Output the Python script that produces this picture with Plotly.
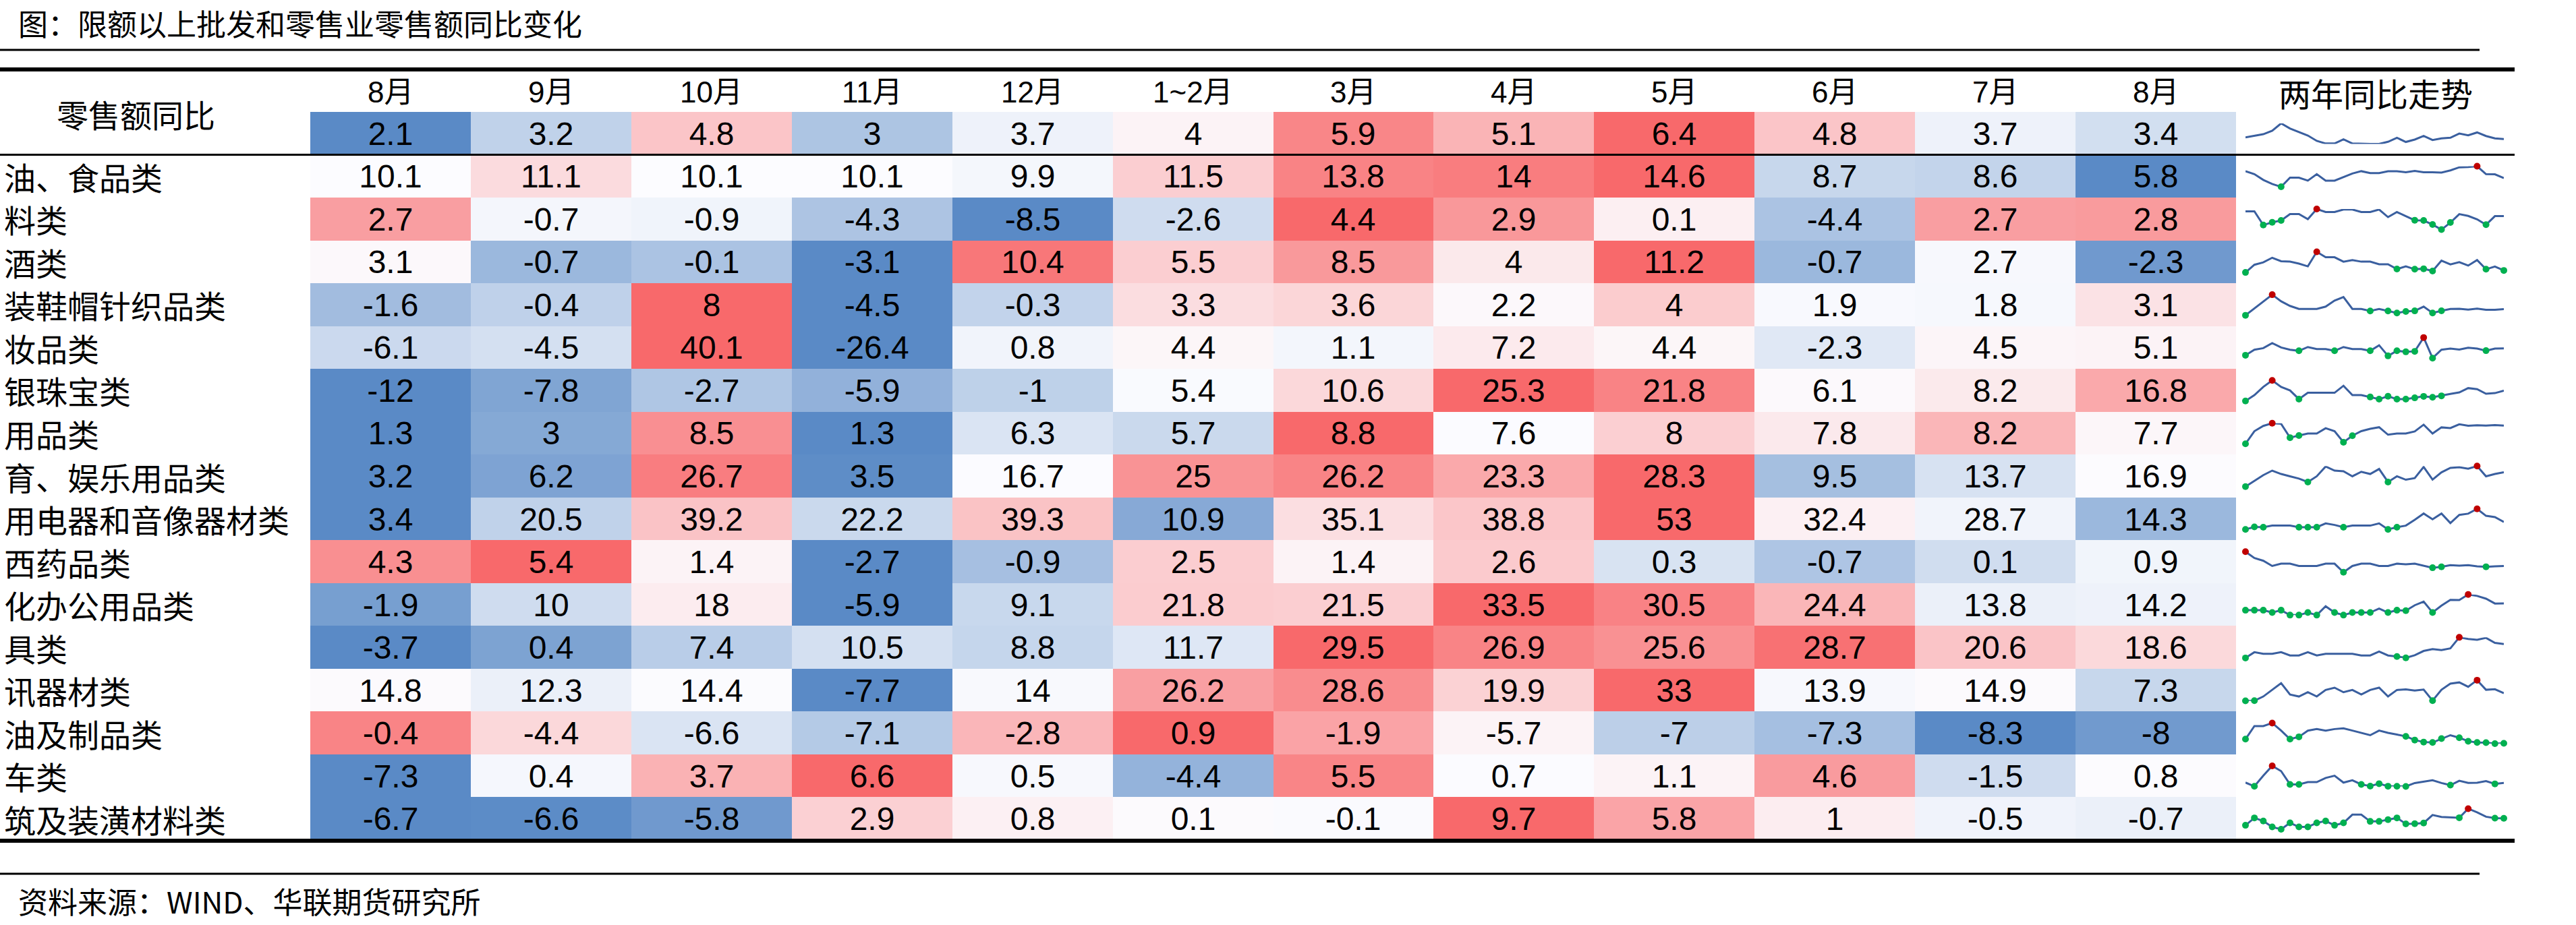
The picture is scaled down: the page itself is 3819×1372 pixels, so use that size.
import plotly.graph_objects as go

W, H = 3819, 1372

# ---------------- data ----------------
title_text = "图：限额以上批发和零售业零售额同比变化"
source_text = "资料来源：WIND、华联期货研究所"
header_label = "零售额同比"
trend_header = "两年同比走势"

months = ["8月", "9月", "10月", "11月", "12月", "1~2月", "3月", "4月", "5月", "6月", "7月", "8月"]

row_labels = ["", "油、食品类", "料类", "酒类", "装鞋帽针织品类", "妆品类", "银珠宝类", "用品类",
              "育、娱乐用品类", "用电器和音像器材类", "西药品类", "化办公用品类", "具类",
              "讯器材类", "油及制品类", "车类", "筑及装潢材料类"]

total_sales = [2.1, 3.2, 4.8, 3, 3.7, 4, 5.9, 5.1, 6.4, 4.8, 3.7, 3.4]
grain_food = [10.1, 11.1, 10.1, 10.1, 9.9, 11.5, 13.8, 14, 14.6, 8.7, 8.6, 5.8]
beverage = [2.7, -0.7, -0.9, -4.3, -8.5, -2.6, 4.4, 2.9, 0.1, -4.4, 2.7, 2.8]
liquor = [3.1, -0.7, -0.1, -3.1, 10.4, 5.5, 8.5, 4, 11.2, -0.7, 2.7, -2.3]
clothing = [-1.6, -0.4, 8, -4.5, -0.3, 3.3, 3.6, 2.2, 4, 1.9, 1.8, 3.1]
cosmetics = [-6.1, -4.5, 40.1, -26.4, 0.8, 4.4, 1.1, 7.2, 4.4, -2.3, 4.5, 5.1]
jewelry = [-12, -7.8, -2.7, -5.9, -1, 5.4, 10.6, 25.3, 21.8, 6.1, 8.2, 16.8]
daily_use = [1.3, 3, 8.5, 1.3, 6.3, 5.7, 8.8, 7.6, 8, 7.8, 8.2, 7.7]
sports = [3.2, 6.2, 26.7, 3.5, 16.7, 25, 26.2, 23.3, 28.3, 9.5, 13.7, 16.9]
appliances = [3.4, 20.5, 39.2, 22.2, 39.3, 10.9, 35.1, 38.8, 53, 32.4, 28.7, 14.3]
medicine = [4.3, 5.4, 1.4, -2.7, -0.9, 2.5, 1.4, 2.6, 0.3, -0.7, 0.1, 0.9]
office = [-1.9, 10, 18, -5.9, 9.1, 21.8, 21.5, 33.5, 30.5, 24.4, 13.8, 14.2]
furniture = [-3.7, 0.4, 7.4, 10.5, 8.8, 11.7, 29.5, 26.9, 25.6, 28.7, 20.6, 18.6]
telecom = [14.8, 12.3, 14.4, -7.7, 14, 26.2, 28.6, 19.9, 33, 13.9, 14.9, 7.3]
petroleum = [-0.4, -4.4, -6.6, -7.1, -2.8, 0.9, -1.9, -5.7, -7, -7.3, -8.3, -8]
autos = [-7.3, 0.4, 3.7, 6.6, 0.5, -4.4, 5.5, 0.7, 1.1, 4.6, -1.5, 0.8]
building = [-6.7, -6.6, -5.8, 2.9, 0.8, 0.1, -0.1, 9.7, 5.8, 1, -0.5, -0.7]

table_rows = [total_sales, grain_food, beverage, liquor, clothing, cosmetics, jewelry, daily_use,
              sports, appliances, medicine, office, furniture, telecom, petroleum, autos, building]

# earlier 18 points of each sparkline; the last 12 points are the table values
spark_total = [4.2, 5.0, 5.6, 7.2, 10.5, 8.2, 6.6, 5.0, 2.6, 1.4, 1.4, 3.3, 1.4, 1.2, 1.2, 1.2, 2.2, 4.0]
spark_grain = [10.9, 8.7, 4.4, 1.4, -0.7, 6.1, 6.1, 3.9, 8.7, 3.9, 3.9, 6.5, 9.2, 10.9, 9.5, 9.5, 10.9, 10.9]
spark_beverage = [6.7, 6.7, -4.7, -2.4, -0.9, 4.4, 4.4, 0.2, 8.6, 6.1, 6.1, 8.2, 8.2, 6.1, 6.1, 8.2, 1.9, 6.1]
spark_liquor = [-4.9, 5.1, 8.2, 14.2, 9.7, 9.1, 6.6, 3.0, 21.8, 14.8, 14.8, 9.1, 11.2, 9.1, 9.1, 5.7, 5.7, -0.5]
spark_clothing = [-9.1, 4.8, 18.6, 31.6, 18.6, 9.4, 3.4, 3.4, 3.4, 8.0, 20.0, 27.0, 3.4, 3.4, -0.5, 3.4, -0.6, -4.5]
spark_cosmetics = [-17.1, 0.8, 5.8, 22.2, 7.9, 0.8, -2.8, 9.4, 2.9, 2.9, -2.8, 9.4, 2.9, 2.9, -2.8, 15.1, -19.2, -2.8]
spark_jewelry = [-18.3, 1.5, 29.3, 51.5, 29.3, 17.4, -12, 9.4, 9.4, 9.4, 9.4, 33.2, 1.5, 1.5, -4.9, -12, -2.5, -12]
spark_daily = [-7.1, 3.2, 7.5, 9.7, 9.2, -2.1, -0.4, 1.3, 1.3, 5.6, 3.2, -5.8, -0.5, 3.2, 5.1, 6.4, 0.3, 1.3]
spark_sports = [-9.4, 1.1, 11.6, 19.9, 13.7, 9.5, 5.3, -1.0, 9.5, 27.5, 19.9, 18.7, 9.5, 17.8, 13.7, 22.9, -1.0, 9.5]
spark_appliances = [-7.9, -0.5, -1.2, 3.4, 3.4, 3.4, -1.2, -1.2, -1.2, 10.0, 5.4, -1.2, 3.4, 3.4, 3.4, 10.0, -7.9, -1.2]
spark_medicine = [29.3, 16.7, 11.3, 0.9, 5.4, 5.4, 0.9, 0.9, 0.9, 5.4, 5.4, -11.7, 0.9, 5.4, 5.4, 0.9, 0.9, 5.4]
spark_office = [-0.9, -0.9, -0.9, -6.0, -0.9, -11.6, -11.6, -6.0, -11.6, 7.9, -6.0, -11.6, -6.0, -6.0, -6.0, 2.7, -6.0, -0.9]
spark_furniture = [-3.9, 5.4, 2.9, 2.9, 5.4, 0.1, 0.1, 5.4, 0.1, 2.9, 2.9, 2.9, 2.9, 0.1, 0.1, 6.5, 0.1, -1.5]
spark_telecom = [-8.0, -7.9, 0.5, 13.5, 27.1, 4.5, 0.5, 9.0, 0.5, 13.5, 18.1, 9.0, 13.5, 4.5, 13.5, 18.1, 0.5, 13.5]
spark_petroleum = [-3.4, 10.9, 10.9, 14.2, 5.9, -3.4, -0.9, 5.9, 7.6, 5.9, 7.6, 8.4, 5.9, 3.4, 0.9, 5.9, 3.4, 1.6]
spark_autos = [1.4, -7.0, 16.9, 39.1, 27.2, -2.7, -2.7, 2.5, 2.5, 11.8, 16.9, 1.4, 6.6, -2.7, -6.5, -1.1, -6.8, -6.9]
spark_building = [-8.3, -0.3, -3.7, -10.1, -12.6, -5.7, -10.1, -10.1, -5.7, -3.7, -8.3, -5.7, 3.2, 3.2, -4.1, -4.1, -2.2, -0.3]

spark_early = [spark_total, spark_grain, spark_beverage, spark_liquor, spark_clothing, spark_cosmetics,
               spark_jewelry, spark_daily, spark_sports, spark_appliances, spark_medicine, spark_office,
               spark_furniture, spark_telecom, spark_petroleum, spark_autos, spark_building]

# ---------------- styling ----------------
CJK = "Noto Sans CJK SC"
NUM = "Liberation Sans, Arial, Noto Sans CJK SC"
LOW, MID, HIGH = "#5A8AC6", "#FCFCFF", "#F8696B"
LINE_C, NEG_C, MAX_C = "#3A5F9F", "#00B050", "#C00000"

TABLE_TOP, TABLE_BOT = 166, 1246
N_ROWS = len(table_rows)
ROW_H = (TABLE_BOT - TABLE_TOP) / N_ROWS
COL_L, COL_R = 460, 3315
SP_L, SP_R = 3329, 3712


def px_x(p):
    return p / W


def px_y(p):
    return 1 - p / H


def median(vals):
    s = sorted(vals)
    n = len(s)
    return s[n // 2] if n % 2 else (s[n // 2 - 1] + s[n // 2]) / 2


# per-row 3-colour scale (min -> blue, median -> white, max -> red)
z_norm, z_text = [], []
for vals in table_rows:
    lo, hi, md = min(vals), max(vals), median(vals)
    row = []
    for v in vals:
        if v <= md:
            row.append(-(md - v) / (md - lo) if md > lo else 0)
        else:
            row.append((v - md) / (hi - md) if hi > md else 0)
    z_norm.append(row)
    z_text.append([f"{v:g}" for v in vals])

fig = go.Figure()
fig.add_trace(go.Heatmap(
    z=z_norm, text=z_text, texttemplate="%{text}",
    x=list(range(len(months))), y=list(range(N_ROWS)),
    colorscale=[[0, LOW], [0.5, MID], [1, HIGH]], zmin=-1, zmax=1,
    showscale=False, hoverinfo="skip",
    textfont=dict(family=NUM, size=48, color="black"),
    xaxis="x", yaxis="y"))

layout_axes = dict(
    xaxis=dict(domain=[px_x(COL_L), px_x(COL_R)], range=[-0.5, len(months) - 0.5],
               visible=False, fixedrange=True),
    yaxis=dict(domain=[px_y(TABLE_BOT), px_y(TABLE_TOP)], range=[N_ROWS - 0.5, -0.5],
               visible=False, fixedrange=True),
    xaxis2=dict(domain=[px_x(SP_L), px_x(SP_R)], range=[0, 29], visible=False,
                anchor="y2", fixedrange=True),
)

# sparklines
for i, early in enumerate(spark_early):
    series = early + table_rows[i]
    xs = list(range(len(series)))
    ax = i + 2
    top = TABLE_TOP + ROW_H * i + 17
    bot = TABLE_TOP + ROW_H * (i + 1) - 16
    lo, hi = min(series), max(series)
    layout_axes[f"yaxis{ax}"] = dict(domain=[px_y(bot), px_y(top)], range=[lo, hi],
                                     visible=False, anchor="x2", fixedrange=True)
    fig.add_trace(go.Scatter(x=xs, y=series, mode="lines",
                             line=dict(color=LINE_C, width=3), hoverinfo="skip",
                             xaxis="x2", yaxis=f"y{ax}", cliponaxis=False, showlegend=False))
    if i == 0:
        continue
    imin = series.index(lo)
    imax = series.index(hi)
    gx = [k for k, v in enumerate(series) if (v < 0 or k == imin) and k != imax]
    fig.add_trace(go.Scatter(x=gx, y=[series[k] for k in gx], mode="markers",
                             marker=dict(color=NEG_C, size=10), hoverinfo="skip",
                             xaxis="x2", yaxis=f"y{ax}", cliponaxis=False, showlegend=False))
    fig.add_trace(go.Scatter(x=[imax], y=[hi], mode="markers",
                             marker=dict(color=MAX_C, size=10), hoverinfo="skip",
                             xaxis="x2", yaxis=f"y{ax}", cliponaxis=False, showlegend=False))

annotations = []
# title
annotations.append(dict(text=title_text, x=px_x(25), y=px_y(34), xref="paper", yref="paper",
                        xanchor="left", yanchor="middle", showarrow=False,
                        font=dict(family=CJK, size=44, color="black")))
# header
annotations.append(dict(text=header_label, x=px_x(201), y=px_y(168), xref="paper", yref="paper",
                        xanchor="center", yanchor="middle", showarrow=False,
                        font=dict(family=CJK, size=47, color="black")))
annotations.append(dict(text=trend_header, x=px_x(3522), y=px_y(137), xref="paper", yref="paper",
                        xanchor="center", yanchor="middle", showarrow=False,
                        font=dict(family=CJK, size=48, color="black")))
for j, m in enumerate(months):
    annotations.append(dict(text=m, x=j, y=px_y(136), xref="x", yref="paper",
                            xanchor="center", yanchor="middle", showarrow=False,
                            font=dict(family=NUM, size=44, color="black")))
for i, lab in enumerate(row_labels):
    if not lab:
        continue
    annotations.append(dict(text=lab, x=px_x(4), y=i, xref="paper", yref="y",
                            xanchor="left", yanchor="middle", showarrow=False,
                            font=dict(family=CJK, size=47, color="black")))
# source
annotations.append(dict(text=source_text, x=px_x(25), y=px_y(1336), xref="paper", yref="paper",
                        xanchor="left", yanchor="middle", showarrow=False,
                        font=dict(family=CJK, size=44, color="black")))

shapes = [
    dict(type="line", xref="paper", yref="paper", x0=0, x1=px_x(3676), y0=px_y(74), y1=px_y(74),
         line=dict(color="black", width=3)),
    dict(type="line", xref="paper", yref="paper", x0=0, x1=px_x(3728), y0=px_y(103), y1=px_y(103),
         line=dict(color="black", width=6)),
    dict(type="line", xref="paper", yref="y", x0=0, x1=px_x(3728), y0=0.5, y1=0.5,
         line=dict(color="black", width=3)),
    dict(type="line", xref="paper", yref="paper", x0=0, x1=px_x(3728), y0=px_y(1247), y1=px_y(1247),
         line=dict(color="black", width=6)),
    dict(type="line", xref="paper", yref="paper", x0=0, x1=px_x(3676), y0=px_y(1296), y1=px_y(1296),
         line=dict(color="black", width=3)),
]

fig.update_layout(
    width=W, height=H,
    margin=dict(l=0, r=0, t=0, b=0, pad=0),
    paper_bgcolor="white", plot_bgcolor="white",
    showlegend=False,
    annotations=annotations,
    shapes=shapes,
    **layout_axes,
)

fig.write_html("out.html", config={"displayModeBar": False})
